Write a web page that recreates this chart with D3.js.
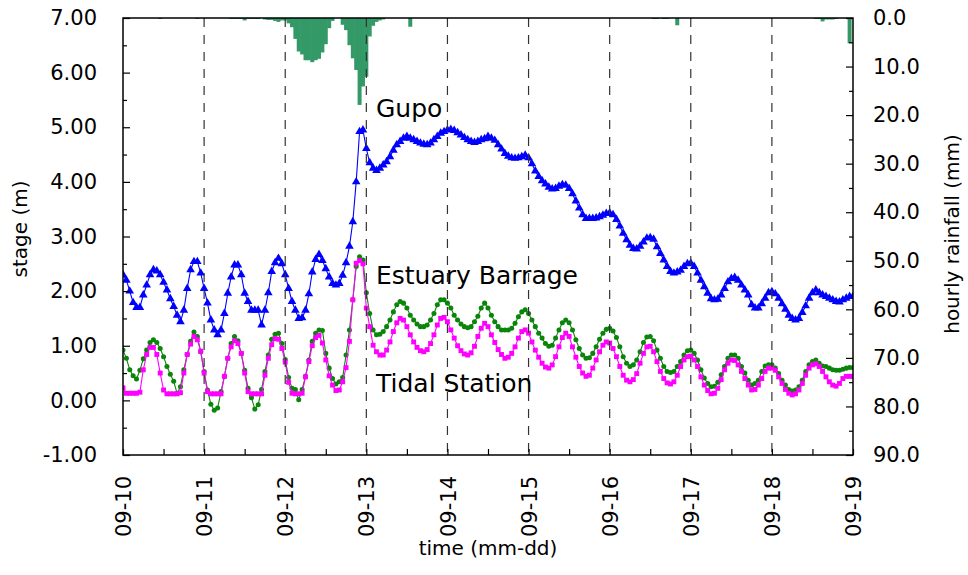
<!DOCTYPE html>
<html>
<head>
<meta charset="utf-8">
<script src="https://cdn.jsdelivr.net/npm/d3@7"></script>
<style>
  html, body { margin: 0; padding: 0; background: #fff; }
  svg text { font-family: 'Comic Sans MS', 'DejaVu Sans', sans-serif; fill: #000; }
</style>
</head>
<body>
<svg id="chart" width="968" height="575"></svg>
<script>
// Hourly records, 2003-09-10 00:00 to 2003-09-19 00:00 (217 hours)
const dayLabels = ["09-10","09-11","09-12","09-13","09-14","09-15","09-16","09-17","09-18","09-19"];
const stageTicks = [-1, 0, 1, 2, 3, 4, 5, 6, 7];
const rainTicks = [0, 10, 20, 30, 40, 50, 60, 70, 80, 90];

// stage at Gupo (m)
const gupo = [
  2.30,2.20,2.00,1.79,1.70,1.70,1.93,2.11,2.30,2.39,2.37,2.30,
  2.16,2.02,1.86,1.72,1.56,1.44,1.65,2.05,2.39,2.54,2.54,2.33,
  2.05,1.78,1.47,1.29,1.20,1.29,1.59,1.96,2.26,2.48,2.48,2.30,
  1.96,1.81,1.65,1.65,1.65,1.38,1.65,1.97,2.36,2.52,2.60,2.50,
  2.30,2.05,1.81,1.65,1.50,1.51,1.65,1.95,2.35,2.58,2.67,2.56,
  2.41,2.26,2.14,2.11,2.14,2.29,2.52,2.82,3.27,4.00,4.92,4.95,
  4.61,4.35,4.25,4.21,4.25,4.31,4.37,4.46,4.58,4.68,4.74,4.80,
  4.83,4.80,4.77,4.74,4.71,4.69,4.68,4.71,4.77,4.83,4.89,4.92,
  4.95,4.96,4.94,4.90,4.86,4.81,4.77,4.74,4.72,4.74,4.77,4.79,
  4.83,4.80,4.76,4.68,4.60,4.52,4.47,4.44,4.43,4.44,4.46,4.49,
  4.44,4.33,4.20,4.10,4.02,3.96,3.90,3.87,3.88,3.92,3.95,3.94,
  3.88,3.78,3.65,3.52,3.40,3.33,3.33,3.33,3.34,3.36,3.39,3.42,
  3.43,3.40,3.31,3.19,3.06,2.94,2.84,2.78,2.77,2.82,2.90,2.97,
  2.98,2.95,2.81,2.69,2.57,2.45,2.36,2.33,2.35,2.38,2.45,2.50,
  2.51,2.45,2.33,2.20,2.08,1.96,1.86,1.84,1.85,1.93,2.05,2.17,
  2.23,2.25,2.20,2.11,2.02,1.93,1.75,1.69,1.69,1.77,1.87,1.97,
  1.99,1.95,1.87,1.77,1.67,1.56,1.50,1.47,1.50,1.61,1.73,1.87,
  1.97,2.02,1.97,1.93,1.90,1.87,1.84,1.81,1.80,1.84,1.87,1.90,
  1.90
];

// stage at the Estuary Barrage (m)
const estuaryBarrage = [
  0.92,0.77,0.56,0.45,0.39,0.55,0.76,0.92,1.06,1.11,1.06,0.95,
  0.80,0.62,0.48,0.35,0.13,0.25,0.56,0.84,1.08,1.25,1.17,0.89,
  0.53,0.19,-0.07,-0.18,-0.14,0.16,0.44,0.77,1.04,1.17,1.09,0.86,
  0.55,0.22,0.05,-0.16,-0.08,0.20,0.53,0.83,1.12,1.21,1.23,1.04,
  0.75,0.42,0.22,0.20,0.01,0.20,0.44,0.74,1.08,1.23,1.29,1.28,
  0.86,0.59,0.40,0.30,0.34,0.42,0.83,1.29,1.84,2.45,2.63,2.57,
  1.97,1.59,1.29,1.20,1.21,1.26,1.35,1.47,1.62,1.75,1.81,1.78,
  1.69,1.56,1.47,1.40,1.35,1.35,1.38,1.47,1.59,1.75,1.84,1.84,
  1.78,1.69,1.56,1.47,1.40,1.35,1.33,1.35,1.44,1.54,1.69,1.78,
  1.69,1.56,1.44,1.35,1.29,1.29,1.29,1.32,1.41,1.53,1.62,1.66,
  1.59,1.47,1.35,1.23,1.14,1.04,0.99,1.01,1.14,1.29,1.42,1.47,
  1.42,1.29,1.11,0.95,0.83,0.77,0.78,0.86,0.98,1.12,1.23,1.30,
  1.32,1.27,1.15,0.98,0.80,0.68,0.62,0.65,0.74,0.89,1.06,1.16,
  1.17,1.09,0.92,0.77,0.62,0.53,0.51,0.53,0.62,0.71,0.83,0.91,
  0.92,0.86,0.74,0.56,0.41,0.31,0.25,0.26,0.33,0.47,0.62,0.77,
  0.83,0.83,0.77,0.62,0.50,0.37,0.28,0.31,0.37,0.53,0.63,0.65,
  0.65,0.59,0.49,0.37,0.28,0.20,0.17,0.19,0.25,0.37,0.53,0.65,
  0.71,0.74,0.68,0.63,0.62,0.59,0.56,0.55,0.55,0.57,0.59,0.60,
  0.60
];

// stage at the Tidal Station (m)
const tidalStation = [
  0.23,0.13,0.13,0.13,0.13,0.15,0.56,0.84,0.97,0.97,0.84,0.50,
  0.19,0.12,0.12,0.12,0.12,0.14,0.50,0.84,1.03,1.17,1.11,0.90,
  0.50,0.16,0.12,0.12,0.12,0.12,0.44,0.77,0.98,1.09,1.04,0.86,
  0.50,0.16,0.12,0.12,0.12,0.12,0.46,0.77,1.02,1.13,1.12,0.95,
  0.70,0.33,0.13,0.12,0.12,0.13,0.43,0.71,1.00,1.15,1.19,1.05,
  0.74,0.45,0.28,0.18,0.19,0.34,0.60,1.08,1.84,2.51,2.56,2.50,
  1.69,1.35,1.01,0.89,0.83,0.83,0.92,1.07,1.26,1.42,1.50,1.47,
  1.35,1.20,1.07,0.97,0.91,0.89,0.93,1.04,1.20,1.38,1.50,1.52,
  1.44,1.29,1.14,1.00,0.91,0.85,0.83,0.87,0.99,1.17,1.32,1.41,
  1.35,1.20,1.06,0.93,0.84,0.77,0.79,0.86,0.98,1.14,1.26,1.29,
  1.23,1.07,0.92,0.79,0.68,0.61,0.59,0.65,0.80,0.98,1.15,1.23,
  1.17,0.98,0.79,0.62,0.50,0.44,0.46,0.59,0.74,0.89,1.01,1.07,
  1.05,0.95,0.80,0.62,0.46,0.37,0.34,0.38,0.49,0.68,0.86,0.98,
  0.99,0.89,0.71,0.53,0.40,0.32,0.30,0.34,0.46,0.62,0.74,0.80,
  0.81,0.74,0.62,0.43,0.28,0.18,0.12,0.13,0.22,0.38,0.56,0.68,
  0.74,0.73,0.65,0.53,0.40,0.28,0.19,0.20,0.28,0.40,0.53,0.59,
  0.59,0.55,0.43,0.31,0.20,0.13,0.10,0.12,0.19,0.31,0.46,0.59,
  0.65,0.67,0.62,0.53,0.43,0.34,0.28,0.26,0.31,0.40,0.44,0.44,
  0.44
];

// hourly rainfall (mm); hours counted from 09-10 00:00, dry hours omitted
const rainHour = [11, 22, 32, 33, 34, 35, 36, 37, 38, 39, 40,
  42, 43, 44, 45, 46, 47, 48, 49, 50, 51, 52, 53, 54, 55, 56, 57, 58, 59, 60, 61, 62,
  65, 66, 67, 68, 69, 70, 71, 72, 73, 74, 75, 76, 77,
  85, 157, 158, 160, 161, 164, 205, 206, 207, 208, 209, 210, 211, 215];
const rainfall = [0.2, 0.2, 0.2, 0.2, 0.2, 0.2, 0.5, 0.2, 0.2, 0.2, 0.2,
  0.3, 0.4, 0.4, 0.6, 0.8, 0.5, 0.5, 1.1, 1.9, 4.3, 6.9, 7.5, 8.7, 8.7, 9.1, 8.7, 8.4, 7.1, 5.4, 2.1, 0.6,
  1.4, 2.5, 5.6, 8.3, 10.7, 17.9, 14.1, 12.1, 3.8, 1.6, 0.8, 0.5, 0.3,
  1.8, 0.2, 0.2, 0.2, 0.2, 1.5, 0.2, 0.2, 0.7, 0.3, 0.3, 0.3, 0.2, 5.2];

const start = new Date(Date.UTC(2003, 8, 10));
const hourToDate = h => d3.utcHour.offset(start, h);
const dayDates = dayLabels.map((_, i) => d3.utcDay.offset(start, i));

const margin = { left: 123, right: 853, top: 18, bottom: 455 };
const svg = d3.select("#chart");

const x = d3.scaleUtc().domain([dayDates[0], dayDates[dayDates.length - 1]]).range([margin.left, margin.right]);
const yStage = d3.scaleLinear().domain([-1, 7]).range([margin.bottom, margin.top]);
const yRain = d3.scaleLinear().domain([0, 90]).range([margin.top, margin.bottom]);

svg.append("defs").append("clipPath").attr("id", "plot-clip")
  .append("rect")
  .attr("x", margin.left).attr("y", margin.top)
  .attr("width", margin.right - margin.left).attr("height", margin.bottom - margin.top);

const plot = svg.append("g").attr("clip-path", "url(#plot-clip)");

// rainfall bars hang from the top edge; each box is one hour wide, with a
// small overlap so neighbouring boxes merge without seams
const halfHour = 30 * 60 * 1000;
const overlap = 0.6;
plot.append("g").selectAll("rect")
  .data(rainHour.map((h, i) => ({ t: hourToDate(h), v: rainfall[i] })))
  .join("rect")
  .attr("x", d => x(new Date(d.t.getTime() - halfHour)) - overlap / 2)
  .attr("width", d => x(new Date(d.t.getTime() + halfHour)) - x(new Date(d.t.getTime() - halfHour)) + overlap)
  .attr("y", yRain(0))
  .attr("height", d => yRain(d.v) - yRain(0))
  .attr("fill", "#339966");

// dashed day grid
svg.append("g").selectAll("line")
  .data(dayDates.slice(1, -1))
  .join("line")
  .attr("x1", d => x(d)).attr("x2", d => x(d))
  .attr("y1", margin.top).attr("y2", margin.bottom)
  .attr("stroke", "#333").attr("stroke-width", 1.2)
  .attr("stroke-dasharray", "9,8");

// stage series
function drawSeries(values, color, marker) {
  const pts = values.map((v, i) => ({ t: hourToDate(i), v }));
  const line = d3.line().x(d => x(d.t)).y(d => yStage(d.v));
  const g = plot.append("g");
  g.append("path").datum(pts)
    .attr("d", line).attr("fill", "none")
    .attr("stroke", color).attr("stroke-width", 1.1);
  const sym = d3.symbol().type(marker.type).size(marker.size);
  g.selectAll("path.mk").data(pts).join("path")
    .attr("class", "mk")
    .attr("transform", d => `translate(${x(d.t)},${yStage(d.v)})`)
    .attr("d", sym)
    .attr("fill", color);
}
drawSeries(gupo, "#0000ff", { type: d3.symbolTriangle, size: 32 });
drawSeries(estuaryBarrage, "#0a850a", { type: d3.symbolCircle, size: 20 });
drawSeries(tidalStation, "#ff00ff", { type: d3.symbolSquare, size: 24 });

// axes
const fmtStage = d => d.toFixed(2);
const fmtRain = d => d.toFixed(1);

const left = svg.append("g").attr("transform", `translate(${margin.left},0)`)
  .call(d3.axisLeft(yStage).tickValues(stageTicks).tickFormat(fmtStage).tickSize(-7).tickPadding(26));
const leftMinor = svg.append("g").attr("transform", `translate(${margin.left},0)`)
  .call(d3.axisLeft(yStage).tickValues(d3.range(-0.5, 7, 1)).tickFormat("").tickSize(-4));

const right = svg.append("g").attr("transform", `translate(${margin.right},0)`)
  .call(d3.axisRight(yRain).tickValues(rainTicks).tickFormat(fmtRain).tickSize(-7).tickPadding(20));
const rightMinor = svg.append("g").attr("transform", `translate(${margin.right},0)`)
  .call(d3.axisRight(yRain).tickValues(d3.range(5, 90, 10)).tickFormat("").tickSize(-4));

const bottom = svg.append("g").attr("transform", `translate(0,${margin.bottom})`)
  .call(d3.axisBottom(x).tickValues(dayDates).tickFormat((d, i) => dayLabels[i]).tickSize(-6));
const bottomMinor = svg.append("g").attr("transform", `translate(0,${margin.bottom})`)
  .call(d3.axisBottom(x).tickValues(dayDates.slice(0, -1).map(d => d3.utcHour.offset(d, 12))).tickFormat("").tickSize(-6));

bottom.selectAll(".tick text")
  .attr("transform", "rotate(-90)")
  .attr("x", -21).attr("y", 0).attr("dy", "0.36em")
  .style("text-anchor", "end");

[left, leftMinor, right, rightMinor, bottom, bottomMinor].forEach(g => {
  g.select(".domain").remove();
  g.selectAll(".tick line").attr("stroke", "#000").attr("stroke-width", 1.2);
  g.selectAll(".tick text").attr("font-size", 21).attr("fill", "#000")
    .attr("font-family", "'Comic Sans MS', 'DejaVu Sans', sans-serif");
});

// frame
svg.append("rect")
  .attr("x", margin.left).attr("y", margin.top)
  .attr("width", margin.right - margin.left).attr("height", margin.bottom - margin.top)
  .attr("fill", "none").attr("stroke", "#000").attr("stroke-width", 1.5);

// axis titles
svg.append("text")
  .attr("transform", "translate(27,229) rotate(-90)")
  .attr("text-anchor", "middle").attr("font-size", 20)
  .text("stage (m)");
svg.append("text")
  .attr("transform", "translate(959,234) rotate(-90)")
  .attr("text-anchor", "middle").attr("font-size", 20)
  .text("hourly rainfall (mm)");
svg.append("text")
  .attr("x", (margin.left + margin.right) / 2).attr("y", 555)
  .attr("text-anchor", "middle").attr("font-size", 20)
  .text("time (mm-dd)");

// series labels
svg.append("text").attr("x", 376).attr("y", 117).attr("font-size", 25).text("Gupo");
svg.append("text").attr("x", 376).attr("y", 284).attr("font-size", 25).text("Estuary Barrage");
svg.append("text").attr("x", 376).attr("y", 392).attr("font-size", 25).text("Tidal Station");
</script>
</body>
</html>
